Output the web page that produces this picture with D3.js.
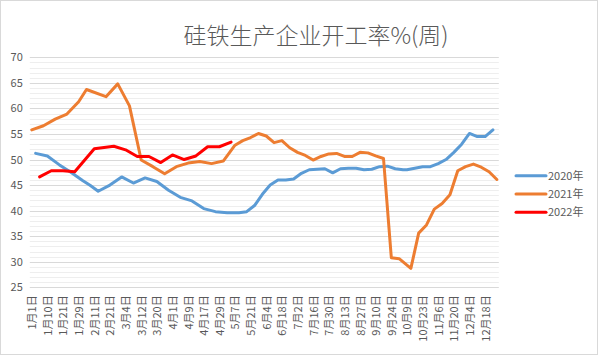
<!DOCTYPE html>
<html><head><meta charset="utf-8">
<script src="https://cdn.jsdelivr.net/npm/d3@7"></script>
<style>
body{margin:0;background:#fff}
svg{display:block}
text{font-family:"Microsoft YaHei","Noto Sans CJK SC","Noto Sans",sans-serif}
</style>
</head><body>
<svg id="chart" width="598" height="356"></svg>
<script>
// ---- data ----
const chartTitle = "硅铁生产企业开工率%(周)";
// category axis: union of weekly dates of the three years; every 4th category is labelled
const categoryCount = 120;
const tickLabels = ["1月1日","1月10日","1月21日","1月29日","2月11日","2月21日","3月4日","3月12日","3月20日",
  "4月1日","4月9日","4月17日","4月29日","5月7日","5月21日","6月4日","6月18日","7月2日","7月16日","7月30日",
  "8月13日","8月27日","9月10日","9月24日","10月9日","10月23日","11月6日","11月20日","12月4日","12月18日"];
const seriesNames = ["2020年","2021年","2022年"];

// category index of each observation
const cat2020 = [1,4,7,10,13,15,17,20,23,26,29,32,35,38,41,44,47,50,53,
  55,57,59,61,63,65,67,69,71,73,75,77,79,81,83,85,87,89,91,93,95,
  96,98,100,102,104,106,108,110,112,114,116,118];
const values2020 = [51.2,50.7,49.0,47.5,45.9,44.9,43.8,45.0,46.6,45.4,46.4,45.7,44.0,42.6,41.9,40.4,39.8,39.6,39.6,
  39.8,41.0,43.2,45.0,46.0,46.0,46.2,47.3,48.0,48.1,48.2,47.4,48.2,48.3,48.3,48.0,48.1,48.6,48.7,48.2,48.0,
  48.0,48.3,48.6,48.6,49.2,50.0,51.4,53.0,55.1,54.5,54.5,55.8];

const cat2021 = [0,3,6,9,12,14,19,22,25,28,31,34,37,40,43,46,49,52,
  54,56,58,60,62,64,66,68,70,72,74,76,78,80,82,84,86,88,90,92,94,
  97,99,101,103,105,107,109,111,113,115,117,119];
const values2021 = [55.8,56.6,57.9,58.9,61.3,63.7,62.3,64.8,60.5,49.9,48.6,47.2,48.6,49.3,49.6,49.2,49.7,52.8,
  53.7,54.3,55.1,54.6,53.3,53.7,52.3,51.4,50.8,49.9,50.6,51.1,51.2,50.6,50.6,51.4,51.3,50.7,50.2,30.8,30.6,
  28.7,35.6,37.2,40.3,41.4,43.1,47.8,48.6,49.1,48.5,47.6,46.1];

const cat2022 = [2,5,8,11,16,18,21,24,27,30,33,36,39,42,45,48,51];
const values2022 = [46.6,47.8,47.8,47.6,52.1,52.3,52.6,51.9,50.6,50.6,49.4,50.9,50.0,50.7,52.5,52.5,53.4];

const yTicks = [25,30,35,40,45,50,55,60,65,70];
const colors = ["#5B9BD5","#ED7D31","#FF0000"];

// ---- layout ----
const svg = d3.select("#chart");
const plot = {left: 29.8, right: 498.8, top: 57.3, bottom: 287.3};
const x = d3.scaleLinear().domain([-0.5, categoryCount - 0.5]).range([plot.left, plot.right]);
const y = d3.scaleLinear().domain([25, 70]).range([plot.bottom, plot.top]);

svg.append("rect").attr("x",0.5).attr("y",0.5).attr("width",597).attr("height",354)
  .attr("fill","#fff").attr("stroke","#d9d9d9");

// minor gridlines every 1
svg.append("g").selectAll("line").data(d3.range(25,71,1).filter(v => v % 5 !== 0)).join("line")
  .attr("x1",plot.left).attr("x2",plot.right)
  .attr("y1",d=>Math.round(y(d))+0.5).attr("y2",d=>Math.round(y(d))+0.5)
  .attr("stroke","#eeeeee").attr("stroke-width",1);
// major gridlines
svg.append("g").selectAll("line").data(yTicks).join("line")
  .attr("x1",plot.left).attr("x2",plot.right)
  .attr("y1",d=>Math.round(y(d))+0.5).attr("y2",d=>Math.round(y(d))+0.5)
  .attr("stroke","#d9d9d9").attr("stroke-width",1);

// y axis labels
const yAxis = svg.append("g").attr("transform",`translate(${plot.left - 7},0)`)
  .call(d3.axisLeft(y).tickValues(yTicks).tickSize(0).tickPadding(0));
yAxis.select(".domain").remove();
yAxis.selectAll("text").attr("fill","#595959").style("font-size","11px")
  .style("font-family","'Microsoft YaHei','Noto Sans CJK SC',sans-serif");

// x axis labels
const xAxis = svg.append("g").attr("transform",`translate(0,${plot.bottom})`)
  .call(d3.axisBottom(x).tickValues(tickLabels.map((d,i)=>i*4)).tickFormat((d,i)=>tickLabels[i]).tickSize(0));
xAxis.select(".domain").remove();
xAxis.selectAll("text")
  .attr("transform","rotate(-90)")
  .attr("text-anchor","end")
  .attr("x",-8).attr("y",0).attr("dy","0.36em")
  .attr("fill","#595959").style("font-size","11px")
  .style("font-family","'Microsoft YaHei','Noto Sans CJK SC',sans-serif");

// lines
const series = [
  {name: seriesNames[0], cats: cat2020, vals: values2020},
  {name: seriesNames[1], cats: cat2021, vals: values2021},
  {name: seriesNames[2], cats: cat2022, vals: values2022}
];
const line = d3.line().x(d=>x(d[0])).y(d=>y(d[1]));
series.forEach((s,i) => {
  svg.append("path")
    .datum(s.cats.map((c,k)=>[c, s.vals[k]]))
    .attr("d", line)
    .attr("fill","none")
    .attr("stroke", colors[i])
    .attr("stroke-width", 3)
    .attr("stroke-linejoin","round")
    .attr("stroke-linecap","round");
});

// title
svg.append("text").attr("x",316).attr("y",44).attr("text-anchor","middle")
  .attr("fill","#595959").style("font-size","23px").style("font-weight","300")
  .text(chartTitle);

// legend
const legend = svg.append("g");
series.forEach((s,i) => {
  const ly = 175.7 + i*18.3;
  legend.append("line").attr("x1",516).attr("x2",546).attr("y1",ly).attr("y2",ly)
    .attr("stroke",colors[i]).attr("stroke-width",3).attr("stroke-linecap","round");
  legend.append("text").attr("x",548).attr("y",ly).attr("dy","0.36em")
    .attr("fill","#595959").style("font-size","11px").text(s.name);
});
</script>
</body></html>
